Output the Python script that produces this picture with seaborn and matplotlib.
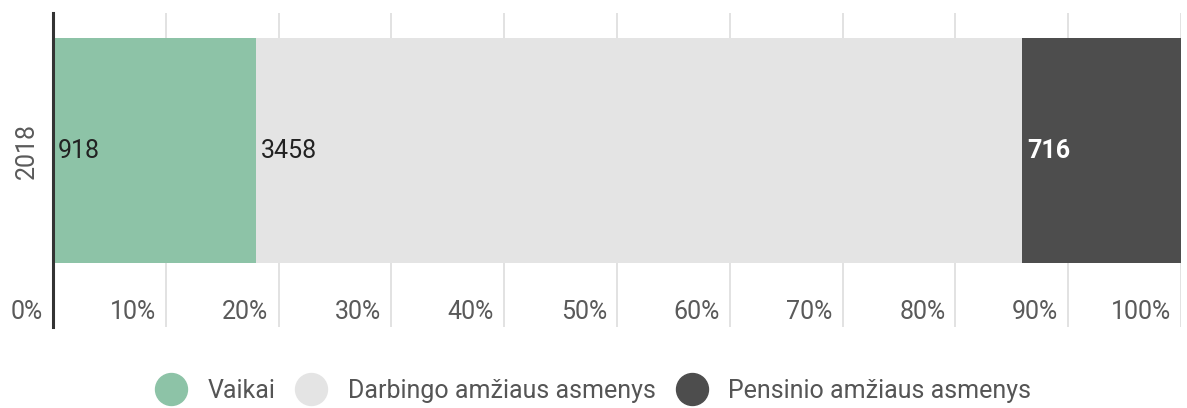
import numpy as np
import pandas as pd
import matplotlib
matplotlib.use("Agg")
import matplotlib.pyplot as plt
import matplotlib.transforms as mtransforms
from matplotlib.lines import Line2D
import seaborn as sns

# ---- data ----
year = "2018"
categories = ["Vaikai", "Darbingo amžiaus asmenys", "Pensinio amžiaus asmenys"]
values = [918, 3458, 716]
colors = ["#8dc3a7", "#e4e4e4", "#4d4d4d"]
label_colors = ["#222222", "#222222", "#ffffff"]
tick_values = [0, 10, 20, 30, 40, 50, 60, 70, 80, 90, 100]
tick_labels = ["0%", "10%", "20%", "30%", "40%", "50%", "60%", "70%", "80%", "90%", "100%"]

sns.set_theme(style="white")
plt.rcParams["font.family"] = ["Roboto", "DejaVu Sans"]

vals = np.array(values, dtype=float)
pct = vals / vals.sum() * 100
ends = np.cumsum(pct)
starts = ends - pct

fig = plt.figure(figsize=(11.87, 4.08), dpi=100)
W, H = 1187, 408
ax = fig.add_axes([53 / W, 1 - 327 / H, (1181 - 53) / W, (327 - 13) / H])

# stacked bar: draw cumulative ends from largest to smallest
for i in reversed(range(len(values))):
    df = pd.DataFrame({"year": [year], "end": [ends[i]]})
    sns.barplot(data=df, x="end", y="year", orient="h", color=colors[i],
                width=1.0, saturation=1, ax=ax, zorder=2, linewidth=0)

ax.set_xlim(0, 100)
ax.set_ylim(0.784, -0.611)

# gridlines
ax.set_xticks(tick_values)
ax.xaxis.grid(True, color="#dddddd", linewidth=1.2, zorder=0)
ax.set_axisbelow(True)
ax.tick_params(axis="x", length=0, pad=-19.5, labelsize=18, labelcolor="#5a5a5a")
ax.set_xticklabels(tick_labels)
offset = mtransforms.ScaledTranslation(-10 / 100, 0, fig.dpi_scale_trans)
for lab in ax.get_xticklabels():
    lab.set_horizontalalignment("right")
    lab.set_transform(lab.get_transform() + offset)

ax.tick_params(axis="y", length=0, pad=10.5, labelsize=18, labelcolor="#5a5a5a")
for lab in ax.get_yticklabels():
    lab.set_rotation(90)
    lab.set_verticalalignment("center")

for s in ["top", "right", "bottom"]:
    ax.spines[s].set_visible(False)
ax.spines["left"].set_color("#333333")
ax.spines["left"].set_linewidth(2.2)
ax.spines["left"].set_zorder(5)
ax.set_xlabel("")
ax.set_ylabel("")

# value labels
for i in range(len(values)):
    ax.annotate(f"{values[i]}", xy=(starts[i], 0), xytext=(3.5, 0),
                textcoords="offset points", ha="left", va="center",
                fontsize=18, fontweight="bold" if i == 2 else "normal",
                color=label_colors[i], zorder=6)

# legend
handles = [Line2D([0], [0], marker="o", linestyle="", markersize=23,
                  markerfacecolor=c, markeredgecolor=c) for c in colors]
leg = fig.legend(handles, categories, loc="center", bbox_to_anchor=(0.5, 1 - 391 / H),
                 ncol=3, frameon=False, fontsize=18, handletextpad=0.85,
                 columnspacing=0.85, handlelength=1.2)
for t in leg.get_texts():
    t.set_color("#555555")

fig.savefig("out.png", dpi=100)
